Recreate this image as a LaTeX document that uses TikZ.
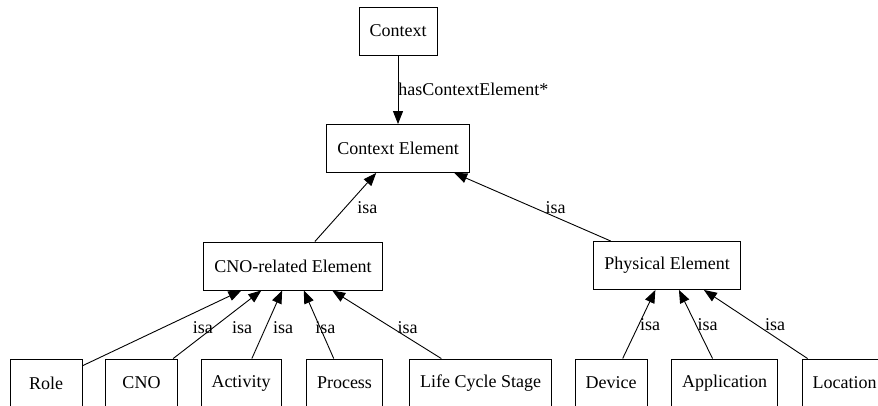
\documentclass[tikz,border=0pt]{standalone}
\usepackage{fontspec}
\setmainfont{Liberation Serif}
\newfontfamily\graphfont{Liberation Serif}
\usetikzlibrary{arrows.meta}
\tikzset{
  box/.style={draw, line width=0.9pt, minimum width=72pt, minimum height=48pt,
    inner xsep=10.5pt, font=\graphfont\fontsize{18}{20}\selectfont},
  isa/.style={-{Triangle[length=13pt,width=10pt]}, line width=0.9pt},
  lbl/.style={anchor=west, inner sep=0pt, font=\graphfont\fontsize{18}{20}\selectfont}
}
\begin{document}
\begin{tikzpicture}[x=1pt,y=-1pt]
\useasboundingbox (0,0) rectangle (878,405);
\clip (0,0) rectangle (878,405);
% upper levels
\node[box] (context) at (398,31) {Context};
\node[box] (ctxelem) at (398,148.5) {Context Element};
\node[box] (cnoelem) at (293,266) {CNO-related Element};
\node[box] (physelem) at (667,265.5) {Physical Element};
% leaves
\foreach \name/\x/\txt in {role/46/Role, cno/141.5/CNO, activity/241/Activity,
  process/344.5/Process, lcs/480.5/Life Cycle Stage, device/611/Device,
  application/724.5/Application, location/844.5/Location}
  \node[box] (\name) at (\x,383) {\txt};
% relations
\draw[isa] (context) -- node[lbl,pos=.5] {hasContextElement*} (ctxelem);
\draw[isa] (cnoelem) -- node[lbl,pos=.49,xshift=12pt] {isa} (ctxelem);
\draw[isa] (physelem) -- node[lbl,pos=.49,xshift=11pt] {isa} (ctxelem);
\foreach \name/\p/\s in {role/.51/29, cno/.46/18, activity/.46/7, process/.46/-5, lcs/.46/6}
  \draw[isa] (\name) -- node[lbl,pos=\p,xshift=\s pt] {isa} (cnoelem);
\foreach \name/\p/\s in {device/.49/1, application/.49/1, location/.49/8}
  \draw[isa] (\name) -- node[lbl,pos=\p,xshift=\s pt] {isa} (physelem);
\end{tikzpicture}
\end{document}
